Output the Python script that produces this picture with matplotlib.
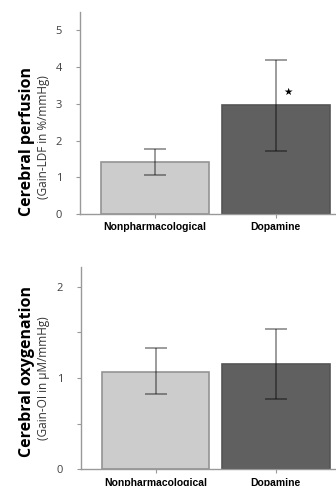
import matplotlib.pyplot as plt

groups = ["Nonpharmacological", "Dopamine"]

perf_means = [1.42, 2.96]
perf_low = [1.07, 1.71]
perf_high = [1.78, 4.20]

oxy_means = [1.07, 1.155]
oxy_low = [0.82, 0.77]
oxy_high = [1.33, 1.54]

bar_colors = ["#cccccc", "#606060"]
edge_colors = ["#939393", "#555555"]

fig = plt.figure(figsize=(3.36, 4.86), dpi=100)
ax1 = fig.add_axes([80 / 336, 1 - 214 / 486, 256 / 336, 202 / 486])
ax2 = fig.add_axes([81 / 336, 1 - 469.3 / 486, 255 / 336, 202.6 / 486])


def draw(ax, means, low, high):
    x = list(range(len(groups)))
    ax.bar(x, means, width=0.895, color=bar_colors, edgecolor=edge_colors, linewidth=1.2, zorder=2)
    # translucent error bars: light grey on white, dark on the dark bar
    for i in x:
        ax.errorbar(i, means[i], yerr=[[means[i] - low[i]], [high[i] - means[i]]],
                    fmt="none", ecolor="black", alpha=0.42, elinewidth=1.3, capsize=7.8,
                    capthick=1.3, zorder=3)
    ax.set_xlim(-0.62, 1.5)
    ax.set_xticks(x)
    ax.set_xticklabels(groups, fontfamily="Liberation Sans", fontweight="bold", fontsize=7.5)
    for s in ["top", "right"]:
        ax.spines[s].set_visible(False)
    for s in ["left", "bottom"]:
        ax.spines[s].set_color("#999999")
        ax.spines[s].set_linewidth(1.0)
    ax.tick_params(axis="x", length=3, color="#999999", pad=3)
    ax.tick_params(axis="y", length=3, color="#999999", pad=10, labelcolor="#404040", labelsize=8)


draw(ax1, perf_means, perf_low, perf_high)
ax1.set_ylim(0, 5.5)
ax1.set_yticks([0, 1, 2, 3, 4, 5])
ax1.set_yticklabels(["0", "1", "2", "3", "4", "5"], fontfamily="Open Sans")
ax1.text(1.1, 3.32, "\u2605", ha="center", va="center", fontsize=7.5, color="black",
         fontfamily="DejaVu Sans")

draw(ax2, oxy_means, oxy_low, oxy_high)
ax2.set_ylim(0, 2.22)
ax2.set_yticks([0, 0.5, 1, 1.5, 2])
ax2.set_yticklabels(["0", "", "1", "", "2"], fontfamily="Open Sans")

# y labels as two lines: bold title + units
fig.text(27 / 336, 1 - 141 / 486, "Cerebral perfusion", rotation=90, ha="center", va="center",
         fontsize=11.5, fontweight="bold", fontfamily="Open Sans", color="black")
fig.text(43 / 336, 1 - 137 / 486, "(Gain-LDF in %/mmHg)", rotation=90, ha="center", va="center",
         fontsize=8.5, fontfamily="Open Sans", color="#333333")
fig.text(27 / 336, 1 - 371 / 486, "Cerebral oxygenation", rotation=90, ha="center", va="center",
         fontsize=11.5, fontweight="bold", fontfamily="Open Sans", color="black")
fig.text(43 / 336, 1 - 378 / 486, "(Gain-OI in \u00b5M/mmHg)", rotation=90, ha="center", va="center",
         fontsize=8.5, fontfamily="Open Sans", color="#333333")

fig.savefig("out.png", dpi=100)
